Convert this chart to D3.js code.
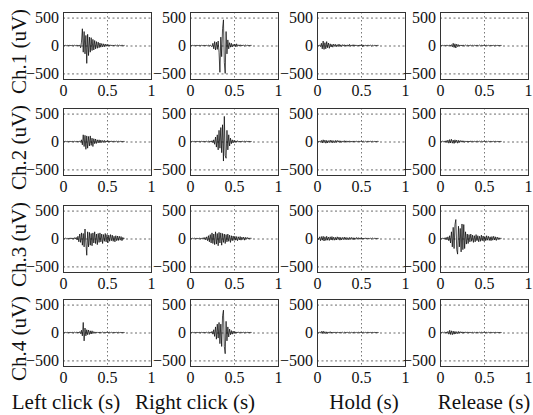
<!DOCTYPE html>
<html>
<head>
<meta charset="utf-8">
<script src="https://cdn.jsdelivr.net/npm/d3@7"></script>
<style>
  html, body { margin: 0; padding: 0; background: #fff; }
  svg { display: block; }
  text { font-family: "Liberation Serif", "Times New Roman", serif; fill: #111; }
</style>
</head>
<body>
<svg id="chart" width="533" height="415"></svg>
<script>
// EMG recordings: 4 channels x 4 mouse actions, sampled every 10 ms from 0 to 0.7 s
const channels = ["Ch.1 (uV)", "Ch.2 (uV)", "Ch.3 (uV)", "Ch.4 (uV)"];
const actions = ["Left click (s)", "Right click (s)", "Hold (s)", "Release (s)"];
const xTicks = [0, 0.5, 1];
const xTickLabels = ["0", "0.5", "1"];
const yTicks = [-500, 0, 500];
const sampleStep = 0.01;

const ch1Left = [0,2,-2,3,-3,2,-2,4,-3,2, -2,3,-4,5,-3,4,-5,6,-8,10, -40,60,300,-120,250,-150,180,-320,200,-180, 150,-120,140,-90,110,-80,90,-60,70,-50, 60,-40,45,-30,35,-25,30,-20,25,-15, 20,-12,15,-10,12,-8,10,-8,9,-6, 8,-6,7,-5,6,-5,6,-4,5,-4, 3];
const ch1Right = [0,2,-2,3,-2,2,-3,2,-2,3, -2,2,-3,3,-2,2,-3,4,-3,3, -4,5,-6,8,-10, -20,40,-60,70,-80, 60,-70,80,-120,-480,150,-200,300,460,-300, -500,250,-150,100,-60,50,-30,40,-25,20, -15,25,-20,30,-15,12,-10,14,-8,10, -8,9,-6,8,-5,6,-5,4,-4,3, 2];
const ch1Hold = [0,3,-4,8,-20,40,-60,80,-70,50, -60,70,-40,45,-50,30,-25,20,-30,25, -15,20,-18,15,-20,25,-15,12,-18,15, -10,14,-12,10,-15,12,-10,20,-15,10, -12,15,-10,12,-8,10,-12,8,-10,12, -8,15,-20,10,-8,6,-10,8,-6,8, -5,6,-8,5,-6,4,-5,6,-4,3, 2];
const ch1Release = [0,2,-2,3,-3,2,-3,4,-3,5, -6,8,-10,15,-25,40,-35,30,-45,25, -20,15,-12,10,-8,10,-12,8,-6,8, -5,6,-8,5,-6,8,-5,4,-6,5, -4,6,-5,4,-6,8,-5,4,-3,5, -4,3,-5,4,-3,4,-5,3,-4,3, -2,3,-4,3,-2,3,-2,2,-3,2, 1];

const ch2Left = [0,2,-2,3,-2,2,-3,2,-2,3, -3,2,-3,4,-3,3,-4,5,-6,8, -15,30,-60,120,-90,110,-140,100,-120,90, -80,100,-70,60,-90,50,-40,45,-35,30, -25,30,-20,25,-20,18,-15,20,-15,12, -10,15,-12,10,-8,12,-10,8,-6,8, -5,6,-5,4,-4,5,-3,4,-3,2, 1];
const ch2Right = [0,2,-2,3,-2,2,-3,2,-2,3, -3,2,-3,3,-2,3,-4,3,-4,5, -5,6,-8,10,-12,15,-20,30,-50,80, -100,120,-150,200,-120,250,-200,300,-350,450, -250,-300,200,-150,120,-80,60,-40,30,-25, 20,-15,12,-10,15,-12,8,-10,8,-6, 6,-5,5,-4,4,-3,4,-3,2,-2, 1];
const ch2Hold = [0,4,-6,10,-15,20,-25,30,-20,25, -30,20,-25,15,-20,25,-15,20,-25,15, -20,18,-15,20,-12,15,-18,12,-15,10, -12,15,-10,12,-15,10,-8,12,-10,8, -12,10,-8,10,-6,8,-10,6,-8,10, -6,8,-5,6,-8,5,-6,4,-5,6, -4,5,-3,4,-5,3,-4,3,-2,3, 1];
const ch2Release = [0,3,-4,6,-8,10,-12,15,-20,25, -30,35,-25,40,-30,25,-35,30,-20,25, -30,20,-15,18,-12,15,-10,12,-15,10, -8,10,-12,8,-10,12,-8,6,-10,8, -6,8,-5,10,-8,6,-5,8,-6,5, -4,6,-5,4,-6,5,-3,4,-5,3, -3,4,-2,3,-3,2,-3,2,-2,2, 1];

const ch3Left = [0,4,-5,6,-8,10,-6,8,-10,12, -8,10,-12,15,-10,20,-25,40,-60,80, -70,100,-120,90,-150,170,-80,-300,120,-150, 110,-120,90,-130,100,-80,120,-90,80,-110, 90,-70,100,-60,80,-90,70,-50,90,-60, 70,-80,60,-50,70,-40,60,-50,40,-60, 50,-40,45,-35,40,-30,35,-40,20,-10, 5];
const ch3Right = [0,3,-4,5,-3,6,-5,4,-6,5, -4,6,-8,10,-12,15,-10,20,-25,30, -40,50,-60,70,-80,100,-90,80,-110,120, -100,90,-130,110,-80,100,-120,90,-70,80, -90,70,-60,80,-50,60,-70,50,-40,45, -35,40,-30,35,-40,30,-25,35,-30,25, -20,25,-30,20,-15,20,-10,12,-8,6, 3];
const ch3Hold = [0,10,-20,30,-40,35,-30,40,-45,30, -35,40,-30,25,-35,30,-25,35,-30,25, -30,20,-25,30,-20,25,-30,20,-25,18, -20,25,-15,20,-25,15,-20,18,-15,20, -18,15,-20,12,-15,18,-12,15,-10,12, -15,10,-12,8,-10,12,-8,10,-6,8, -8,6,-5,8,-6,5,-4,6,-3,2, 1];
const ch3Release = [0,3,-5,8,-10,12,-15,20,-25,30, -40,50,-80,120,-150,200,-180,250,340,-200, -280,220,-150,180,-240,260,-200,250,-180,120, -100,80,-90,70,-60,80,-50,60,-70,50, -60,70,-40,50,-60,40,-50,60,-40,45, -50,35,-40,50,-30,40,-35,30,-40,35, -30,40,-25,30,-35,25,-20,15,-10,5, 2];

const ch4Left = [0,2,-3,2,-2,3,-2,2,-3,4, -3,3,-4,5,-4,6,-5,8,-10,15, -20,40,-60,180,-150,80,-60,50,-40,45, -35,30,-25,30,-20,15,-12,10,-8,10, -6,8,-10,6,-5,8,-6,10,-8,6, -5,6,-4,5,-3,4,-5,3,-4,3, -2,3,-2,4,-3,2,-2,2,-1,1, 0];
const ch4Right = [0,2,-2,3,-2,2,-3,2,-2,3, -3,2,-3,3,-2,3,-4,3,-4,5, -5,6,-8,10,-12,20,-30,50,-70,100, -120,150,-100,180,-200,150,-250,300,400,-250, -380,200,-150,100,-80,60,-40,35,-30,25, -20,15,-12,10,-8,12,-8,6,-5,6, -4,5,-4,3,-3,4,-2,3,-2,2, 1];
const ch4Hold = [0,3,-5,8,-12,20,-15,25,-18,15, -20,12,-15,10,-12,15,-10,8,-12,10, -8,10,-6,8,-10,6,-8,10,-6,5, -8,6,-5,8,-6,5,-4,6,-5,4, -6,5,-4,6,-8,10,-6,5,-4,6, -5,4,-6,5,-4,3,-5,4,-3,4, -3,2,-3,2,-2,3,-2,2,-1,1, 0];
const ch4Release = [0,2,-3,4,-5,6,-8,10,-15,20, -30,40,-35,30,-40,25,-30,20,-25,15, -20,18,-12,15,-10,12,-15,10,-8,12, -10,8,-6,10,-8,6,-10,8,-6,5, -8,6,-5,4,-6,5,-4,6,-5,4, -3,5,-4,3,-5,4,-3,4,-2,3, -3,2,-2,3,-2,2,-2,1,-1,1, 0];

// rows = channels, columns = actions
const signals = [
  [ch1Left, ch1Right, ch1Hold, ch1Release],
  [ch2Left, ch2Right, ch2Hold, ch2Release],
  [ch3Left, ch3Right, ch3Hold, ch3Release],
  [ch4Left, ch4Right, ch4Hold, ch4Release]
];

const svg = d3.select("#chart");
const panelW = 88, panelH = 67;
const colLeft = [63, 190, 317, 440];
const rowTop = [12, 108, 205, 299];
const actionLabelX = [66, 195, 364, 484];
const serif = "'Liberation Serif', 'Times New Roman', serif";

const x = d3.scaleLinear().domain([0, 1]).range([0, panelW]);
const y = d3.scaleLinear().domain([-600, 600]).range([panelH, 0]);

const line = d3.line()
  .x((d, i) => x(i * sampleStep))
  .y(d => y(d));

signals.forEach((row, r) => {
  row.forEach((series, c) => {
    const g = svg.append("g")
      .attr("transform", `translate(${colLeft[c]},${rowTop[r]})`);

    // dashed reference grid
    g.append("g").selectAll("line").data(yTicks).join("line")
      .attr("x1", 0).attr("x2", panelW)
      .attr("y1", d => y(d) + 0.5).attr("y2", d => y(d) + 0.5)
      .attr("stroke", "#444").attr("stroke-width", 0.8)
      .attr("stroke-dasharray", "2,2.5");
    g.append("line")
      .attr("x1", x(0.5) + 0.5).attr("x2", x(0.5) + 0.5)
      .attr("y1", 0).attr("y2", panelH)
      .attr("stroke", "#555").attr("stroke-width", 0.8)
      .attr("stroke-dasharray", "1.5,2.5");

    // signal trace
    g.append("path")
      .datum(series)
      .attr("fill", "none")
      .attr("stroke", "#000")
      .attr("stroke-width", 0.7)
      .attr("d", line);

    // frame
    g.append("rect")
      .attr("x", 0.5).attr("y", 0.5)
      .attr("width", panelW).attr("height", panelH)
      .attr("fill", "none").attr("stroke", "#333").attr("stroke-width", 1);

    // y axis tick labels
    const yAxis = d3.axisLeft(y).tickValues(yTicks).tickSize(0).tickPadding(4);
    const ya = g.append("g").call(yAxis).attr("font-family", serif);
    ya.select(".domain").remove();
    ya.selectAll("text").attr("font-size", 16).attr("fill", "#111");

    // x axis tick labels
    const xAxis = d3.axisBottom(x).tickValues(xTicks)
      .tickFormat((d, i) => xTickLabels[i]).tickSize(0).tickPadding(6);
    const xa = g.append("g").attr("transform", `translate(0,${panelH})`).call(xAxis)
      .attr("font-family", serif);
    xa.select(".domain").remove();
    xa.selectAll("text").attr("font-size", 16).attr("fill", "#111");
  });
});

// channel titles (left)
svg.append("g").selectAll("text").data(channels).join("text")
  .attr("transform", (d, i) => `translate(26,${rowTop[i] + panelH / 2 + 6}) rotate(-90)`)
  .attr("text-anchor", "middle")
  .attr("font-size", 21)
  .text(d => d);

// action titles (bottom)
svg.append("g").selectAll("text").data(actions).join("text")
  .attr("x", (d, i) => actionLabelX[i])
  .attr("y", 409)
  .attr("text-anchor", "middle")
  .attr("font-size", 21)
  .text(d => d);
</script>
</body>
</html>
